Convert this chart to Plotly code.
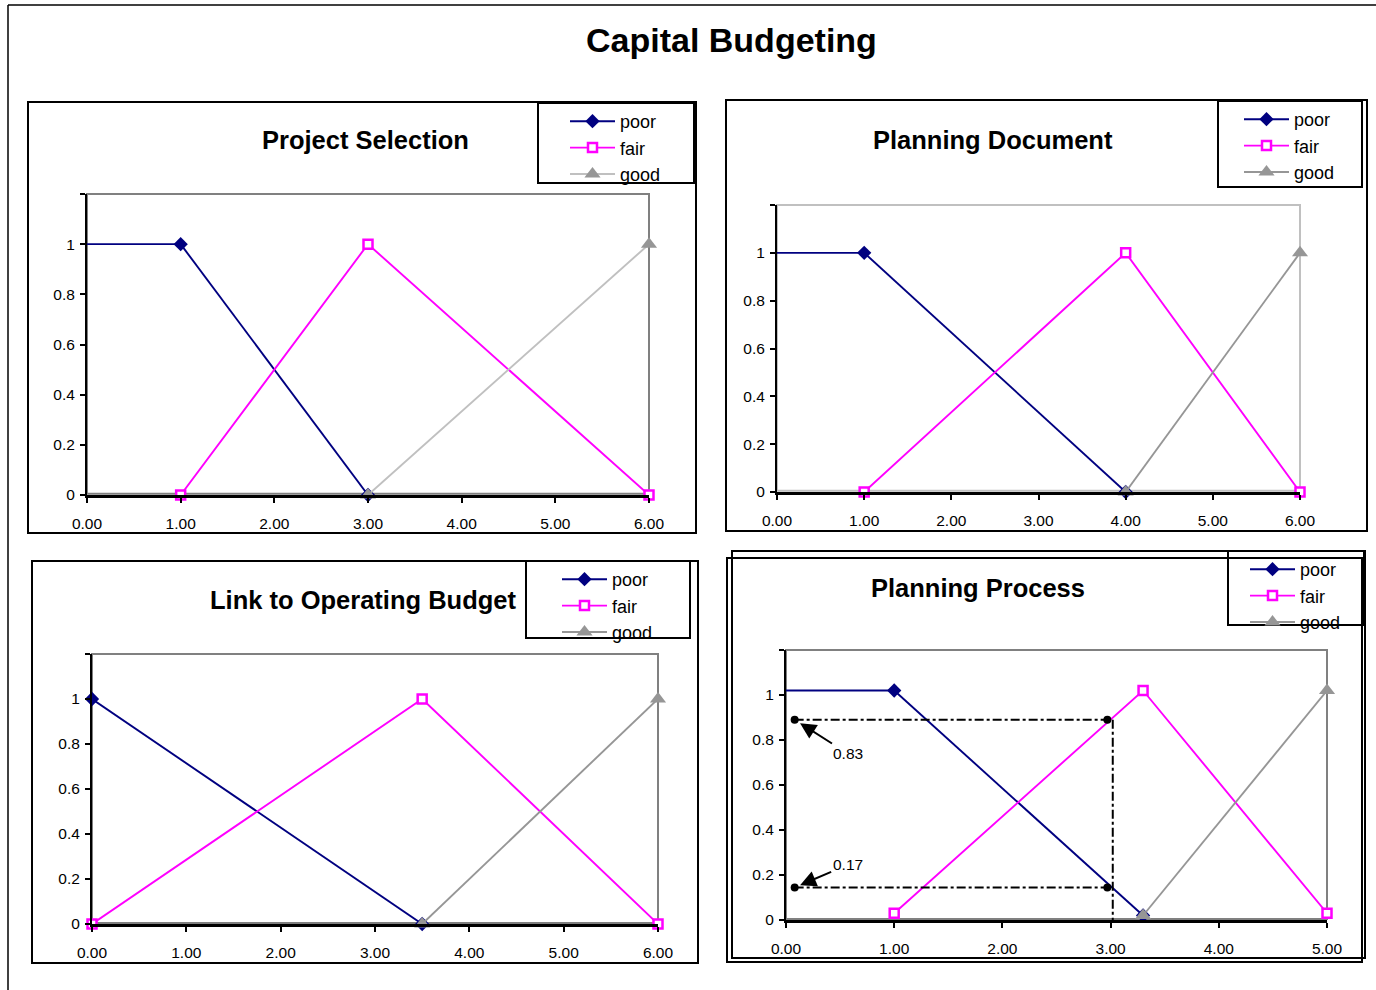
import plotly.graph_objects as go

W, H = 1376, 990
FONT = "Liberation Sans, Arial, sans-serif"

# ---------------- data ----------------
series_names = ["poor", "fair", "good"]

# Project Selection
ps_poor_x = [0, 1, 3]
ps_poor_y = [1, 1, 0]
ps_fair_x = [1, 3, 6]
ps_fair_y = [0, 1, 0]
ps_good_x = [3, 6]
ps_good_y = [0, 1]

# Planning Document
pd_poor_x = [0, 1, 4]
pd_poor_y = [1, 1, 0]
pd_fair_x = [1, 4, 6]
pd_fair_y = [0, 1, 0]
pd_good_x = [4, 6]
pd_good_y = [0, 1]

# Link to Operating Budget
lb_poor_x = [0, 3.5]
lb_poor_y = [1, 0]
lb_fair_x = [0, 3.5, 6]
lb_fair_y = [0, 1, 0]
lb_good_x = [3.5, 6]
lb_good_y = [0, 1]

# Planning Process
pp_poor_x = [0, 1, 3.3]
pp_poor_y = [1.02, 1.02, 0.02]
pp_fair_x = [1, 3.3, 5]
pp_fair_y = [0.03, 1.02, 0.03]
pp_good_x = [3.3, 5]
pp_good_y = [0.02, 1.02]

# Planning Process guide points and labels
guide_x = [0.08, 2.97, 0.08, 2.97]
guide_y = [0.89, 0.89, 0.145, 0.145]
guide_vline_x = 3.02
guide_labels = ["0.83", "0.17"]
guide_label_x = [0.57, 0.57]
guide_label_y = [0.74, 0.245]
guide_head_x = [0.13, 0.13]
guide_head_y = [0.875, 0.155]

y_tickvals = [0, 0.2, 0.4, 0.6, 0.8, 1, 1.2]
y_ticktext = ["0", "0.2", "0.4", "0.6", "0.8", "1", ""]
x_tick_6 = [0, 1, 2, 3, 4, 5, 6]
x_tick_5 = [0, 1, 2, 3, 4, 5]

titles = ["Project Selection", "Planning Document", "Link to Operating Budget", "Planning Process"]
main_title = "Capital Budgeting"

# ---------------- styles ----------------
NAVY = "#000080"
MAG = "#FF00FF"
GRAY = "#969696"
LGRAY = "#C0C0C0"


def px(x):
    return x / W


def py(y):
    return 1 - y / H


# panel geometry (pixels)
panels = [
    dict(x0=87, x1=649, yb=495, yt=194, xmax=6, frame="#808080", goodline=LGRAY,
         title=(366, 140), box=(28, 102, 696, 533), leg=(538, 103, 694, 183),
         legxy=(565, 103), poor_start=1),
    dict(x0=777, x1=1300, yb=492, yt=205, xmax=6, frame=LGRAY, goodline=GRAY,
         title=(993, 140), box=(726, 100, 1367, 531), leg=(1218, 101, 1362, 187),
         legxy=(1239, 101), poor_start=1),
    dict(x0=92, x1=658, yb=924, yt=654, xmax=6, frame="#808080", goodline=GRAY,
         title=(363, 600), box=(32, 561, 698, 963), leg=(526, 561, 690, 638),
         legxy=(557, 561), poor_start=0),
    dict(x0=786, x1=1327, yb=920, yt=650, xmax=5, frame="#808080", goodline=GRAY,
         title=(978, 588), box=(732, 551, 1365, 958), leg=(1228, 551, 1364, 625),
         legxy=(1245, 551), poor_start=1),
]

data_sets = [
    (ps_poor_x, ps_poor_y, ps_fair_x, ps_fair_y, ps_good_x, ps_good_y),
    (pd_poor_x, pd_poor_y, pd_fair_x, pd_fair_y, pd_good_x, pd_good_y),
    (lb_poor_x, lb_poor_y, lb_fair_x, lb_fair_y, lb_good_x, lb_good_y),
    (pp_poor_x, pp_poor_y, pp_fair_x, pp_fair_y, pp_good_x, pp_good_y),
]

fig = go.Figure()
shapes = []
annotations = []
layout = {}

for i, (p, d) in enumerate(zip(panels, data_sets)):
    n = i + 1
    xa = "x" if n == 1 else f"x{n}"
    ya = "y" if n == 1 else f"y{n}"
    leg = "legend" if n == 1 else f"legend{n}"
    pxs, pys, fx, fy, gx, gy = d
    s = p["poor_start"]
    if s > 0:
        # leading flat segment drawn without markers
        fig.add_trace(go.Scatter(
            x=pxs[:s + 1], y=pys[:s + 1], mode="lines", showlegend=False,
            line=dict(color=NAVY, width=1.9), xaxis=xa, yaxis=ya, cliponaxis=False,
            hoverinfo="skip"))
    fig.add_trace(go.Scatter(
        x=pxs[s:], y=pys[s:], name=series_names[0], mode="lines+markers",
        line=dict(color=NAVY, width=1.9),
        marker=dict(symbol="diamond", size=11, color=NAVY),
        xaxis=xa, yaxis=ya, legend=leg, cliponaxis=False))
    fig.add_trace(go.Scatter(
        x=fx, y=fy, name=series_names[1], mode="lines+markers",
        line=dict(color=MAG, width=1.9),
        marker=dict(symbol="square", size=9, color="white", line=dict(color=MAG, width=2.5)),
        xaxis=xa, yaxis=ya, legend=leg, cliponaxis=False))
    fig.add_trace(go.Scatter(
        x=gx, y=gy, name=series_names[2], mode="lines+markers",
        line=dict(color=p["goodline"], width=1.9),
        marker=dict(symbol="triangle-up", size=14, color=GRAY),
        xaxis=xa, yaxis=ya, legend=leg, cliponaxis=False))

    xkey = "xaxis" if n == 1 else f"xaxis{n}"
    ykey = "yaxis" if n == 1 else f"yaxis{n}"
    layout[xkey] = dict(
        domain=[px(p["x0"]), px(p["x1"])], anchor=ya, range=[0, p["xmax"]],
        tickvals=x_tick_6 if p["xmax"] == 6 else x_tick_5, tickformat=".2f",
        showgrid=False, zeroline=False, showline=True, linecolor="black", linewidth=3,
        ticks="outside", ticklen=5, tickwidth=2, tickcolor="black",
        ticklabelstandoff=7, automargin=False,
        tickfont=dict(family=FONT, size=15.5, color="black"))
    layout[ykey] = dict(
        domain=[py(p["yb"]), py(p["yt"])], anchor=xa, range=[0, 1.2],
        tickvals=y_tickvals, ticktext=y_ticktext,
        showgrid=False, zeroline=False, showline=True, linecolor="black", linewidth=2,
        ticks="outside", ticklen=5, tickwidth=2, tickcolor="black",
        ticklabelstandoff=2, automargin=False,
        tickfont=dict(family=FONT, size=15.5, color="black"))

    # plot-area frame
    shapes.append(dict(type="rect", xref=f"{xa} domain", yref=f"{ya} domain",
                       x0=0, x1=1, y0=0.004, y1=1, line=dict(color=p["frame"], width=2),
                       layer="below"))
    # panel box
    bx0, by0, bx1, by1 = p["box"]
    shapes.append(dict(type="rect", xref="paper", yref="paper",
                       x0=px(bx0), x1=px(bx1), y0=py(by1), y1=py(by0),
                       line=dict(color="black", width=2)))
    # legend box
    lx0, ly0, lx1, ly1 = p["leg"]
    shapes.append(dict(type="rect", xref="paper", yref="paper",
                       x0=px(lx0), x1=px(lx1), y0=py(ly1), y1=py(ly0),
                       line=dict(color="black", width=2), fillcolor="white", layer="below"))
    lgx, lgy = p["legxy"]
    layout[leg] = dict(x=px(lgx), y=py(lgy), xanchor="left", yanchor="top",
                       bgcolor="rgba(0,0,0,0)", borderwidth=0, itemwidth=45,
                       font=dict(family=FONT, size=18, color="black"),
                       tracegroupgap=0)
    tx, ty = p["title"]
    annotations.append(dict(text=f"<b>{titles[i]}</b>", x=px(tx), y=py(ty),
                            xref="paper", yref="paper", showarrow=False,
                            xanchor="center", yanchor="middle",
                            font=dict(family=FONT, size=25.5, color="black")))

# second overlapping box of the Planning Process panel
shapes.append(dict(type="rect", xref="paper", yref="paper",
                   x0=px(727), x1=px(1362), y0=py(962), y1=py(558),
                   line=dict(color="black", width=2)))

# outer figure border (top + left)
shapes.append(dict(type="line", xref="paper", yref="paper",
                   x0=px(8), x1=px(1376), y0=py(5), y1=py(5), line=dict(color="black", width=1.5)))
shapes.append(dict(type="line", xref="paper", yref="paper",
                   x0=px(8), x1=px(8), y0=py(5), y1=py(990), line=dict(color="black", width=1.5)))

# Planning Process guide lines
for k in (0, 2):
    shapes.append(dict(type="line", xref="x4", yref="y4",
                       x0=guide_x[k], x1=guide_vline_x, y0=guide_y[k], y1=guide_y[k],
                       line=dict(color="black", width=2, dash="dashdot")))
shapes.append(dict(type="line", xref="x4", yref="y4",
                   x0=guide_vline_x, x1=guide_vline_x, y0=guide_y[0], y1=0,
                   line=dict(color="black", width=2, dash="dashdot")))

fig.add_trace(go.Scatter(x=guide_x, y=guide_y, mode="markers",
                         marker=dict(color="black", size=8), showlegend=False,
                         xaxis="x4", yaxis="y4", cliponaxis=False))

for j in range(2):
    annotations.append(dict(text=guide_labels[j], x=guide_head_x[j], y=guide_head_y[j],
                            ax=guide_label_x[j], ay=guide_label_y[j],
                            xref="x4", yref="y4", axref="x4", ayref="y4",
                            showarrow=True, arrowhead=2, arrowsize=1.6, arrowwidth=2,
                            arrowcolor="black",
                            font=dict(family=FONT, size=15.5, color="black")))

annotations.append(dict(text=f"<b>{main_title}</b>", x=px(732), y=py(40),
                        xref="paper", yref="paper", showarrow=False,
                        xanchor="center", yanchor="middle",
                        font=dict(family=FONT, size=34, color="black")))

fig.update_layout(
    width=W, height=H, margin=dict(l=0, r=0, t=0, b=0, pad=0, autoexpand=False),
    paper_bgcolor="white", plot_bgcolor="rgba(0,0,0,0)",
    showlegend=True, shapes=shapes, annotations=annotations,
    **layout)

fig.write_html("out.html")
